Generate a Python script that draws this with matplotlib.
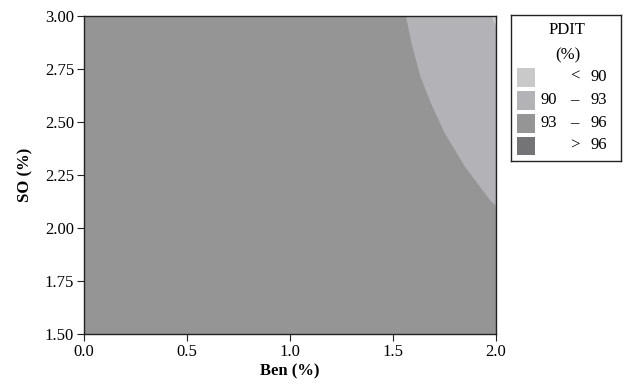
import numpy as np
import matplotlib.pyplot as plt
from matplotlib.patches import Rectangle

plt.rcParams['font.family'] = ['Liberation Serif', 'DejaVu Serif']

# boundary between 93-96 and 90-93 regions
ben_edge = [1.563, 1.591, 1.634, 1.684, 1.752, 1.850, 1.971, 2.0]
so_edge = [3.00, 2.871, 2.714, 2.590, 2.447, 2.289, 2.132, 2.105]

# tiny < 90 corner
ben_corner = [1.975, 2.0, 2.0]
so_corner = [3.0, 3.0, 2.95]

legend_labels = [("", "<", "90"), ("90", "–", "93"), ("93", "–", "96"), ("", ">", "96")]
legend_colors = ["#c9c9ca", "#b3b3b7", "#959596", "#747477"]

xticks = [0.0, 0.5, 1.0, 1.5, 2.0]
yticks = [1.50, 1.75, 2.00, 2.25, 2.50, 2.75, 3.00]

fig = plt.figure(figsize=(6.26, 3.87), dpi=100)
ax = fig.add_axes([0.134, 0.137, 0.658, 0.822])

ax.add_patch(Rectangle((0, 1.5), 2.0, 1.5, color=legend_colors[2], lw=0))
ax.fill(list(ben_edge) + [2.0], list(so_edge) + [3.0], color=legend_colors[1], lw=0)
ax.fill(ben_corner, so_corner, color=legend_colors[0], lw=0)

ax.set_xlim(0, 2.0)
ax.set_ylim(1.5, 3.0)
ax.set_xticks(xticks)
ax.set_xticklabels([f"{t:.1f}" for t in xticks])
ax.set_yticks(yticks)
ax.set_yticklabels([f"{t:.2f}" for t in yticks])
ax.tick_params(direction='out', length=5, labelsize=12, color='#222222', pad=2)
ax.set_xlabel("Ben (%)", fontsize=12, fontweight='bold', labelpad=3)
ax.set_ylabel("SO (%)", fontsize=12, fontweight='bold', labelpad=8)
for s in ax.spines.values():
    s.set_linewidth(1.0)
    s.set_color('#222222')

# legend box
lg = fig.add_axes([0.816, 0.583, 0.176, 0.377])
lg.set_xlim(0, 111)
lg.set_ylim(147, 0)
lg.set_xticks([])
lg.set_yticks([])
for s in lg.spines.values():
    s.set_linewidth(1.0)
    s.set_color('#222222')
lg.text(57, 15, "PDIT", ha='center', va='center', fontsize=12)
lg.text(57, 40, "(%)", ha='center', va='center', fontsize=12)
row_y = [62, 85, 108, 131]
for (a, b, c), col, y in zip(legend_labels, legend_colors, row_y):
    lg.add_patch(Rectangle((6, y - 9), 18, 19, color=col, lw=0))
    if a:
        lg.text(47, y, a, ha='right', va='center', fontsize=12)
    lg.text(64, y, b, ha='center', va='center', fontsize=12)
    lg.text(97, y, c, ha='right', va='center', fontsize=12)

fig.savefig("out.png", dpi=100)
